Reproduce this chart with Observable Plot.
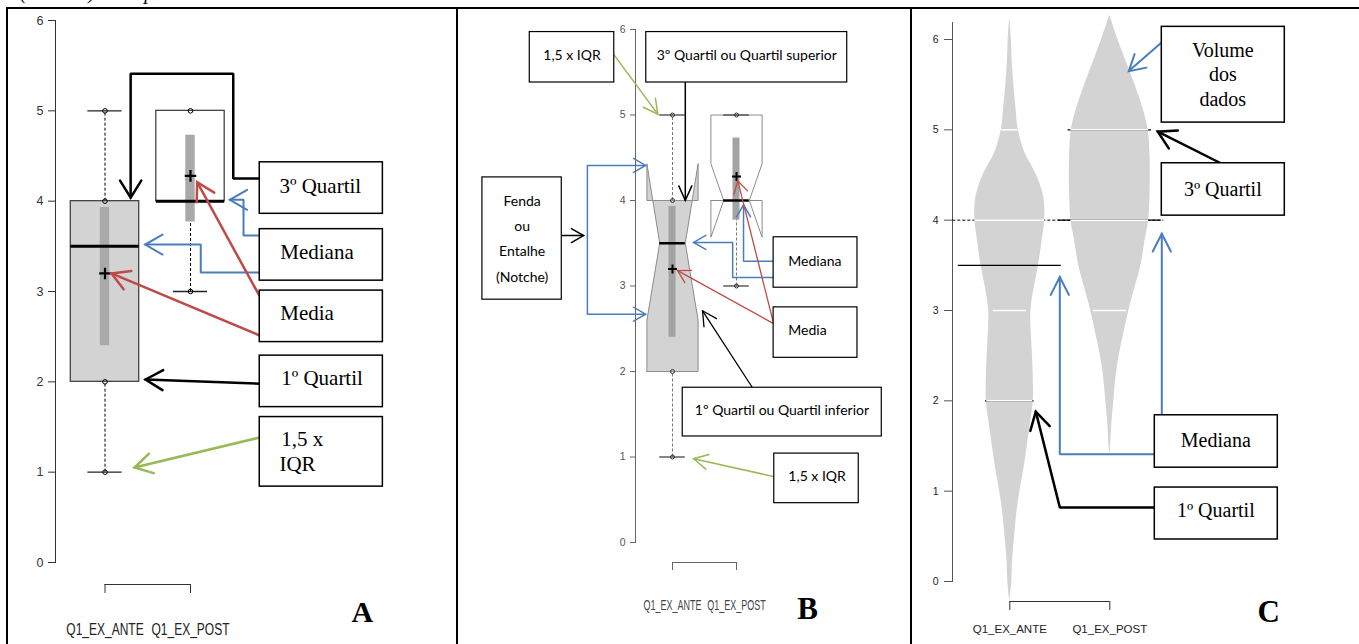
<!DOCTYPE html>
<html><head><meta charset="utf-8">
<script src="https://cdn.jsdelivr.net/npm/d3@7"></script>
<script src="https://cdn.jsdelivr.net/npm/@observablehq/plot@0.6"></script>
<style>
html,body{margin:0;padding:0;background:#fff;}
#root{position:relative;width:1359px;height:644px;overflow:hidden;background:#fff;}
#root svg{position:absolute;top:0;overflow:visible;}
.bar{position:absolute;background:#000;}
</style></head><body><div id="root"></div>
<script>
// ---------------- data ----------------
const categories = ["Q1_EX_ANTE", "Q1_EX_POST"];
const catPos = [1, 2];
const yTicks = [0, 1, 2, 3, 4, 5, 6];
const q1 = [2, 4];
const median = [3.5, 4];
const q3 = [4, 5];
const whiskerLow = [1, 3];
const whiskerHigh = [5, 5];
const mean = [3.2, 4.28];
const meanLow = [2.4, 3.77];
const meanHigh = [3.93, 4.73];
const notchLow = [2.6, 3.57];
const notchHigh = [4.43, 4.43];
const pointsAnte = [1, 2, 4, 5];
const pointsPost = [3, 5];

const violinAnteY = [-0.22, 0, 0.25, 0.5, 0.75, 1, 1.25, 1.5, 1.75, 2, 2.25, 2.5, 2.75, 3, 3.25, 3.5, 3.75, 4, 4.25, 4.5, 4.75, 5, 5.25, 5.5, 5.75, 6, 6.25];
const violinAnteDensity = [0, 0.05, 0.07, 0.12, 0.17, 0.25, 0.35, 0.43, 0.51, 0.58, 0.58, 0.56, 0.53, 0.52, 0.6, 0.71, 0.79, 0.86, 0.84, 0.66, 0.37, 0.21, 0.15, 0.1, 0.06, 0.04, 0];
const violinPostY = [1.4, 1.5, 1.75, 2, 2.25, 2.5, 2.75, 3, 3.25, 3.5, 3.75, 4, 4.25, 4.5, 4.75, 5, 5.25, 5.5, 5.75, 6, 6.27];
const violinPostDensity = [0, 0.02, 0.05, 0.1, 0.15, 0.23, 0.35, 0.47, 0.62, 0.77, 0.86, 0.96, 0.99, 1, 0.99, 0.95, 0.81, 0.62, 0.41, 0.2, 0];
const beanAnteValues = [5, 4, 3, 2];
const beanAnteLength = [0.21, 0.86, 0.41, 0.57];
const beanPostValues = [5, 4, 3];
const beanPostLength = [0.96, 0.96, 0.41];
const beanShadowAnte = [2];
const beanShadowAnteLength = [0.6];
const beanShadowPost = [5];
const beanShadowPostLength = [1.03];
const beanMean = [3.5, 4];
const overallMean = 4;

// ---------------- styles / layout ----------------
const BLUE = "#4a7ebb", RED = "#be4b48", GREEN = "#98b954", BLACK = "#000";
const SERIF = "'Liberation Serif','Times New Roman',serif";
const SANS = "'Liberation Sans',Arial,sans-serif";
const CAL = "Lato,'Open Sans',sans-serif";
const boxHalf = 0.4, capHalf = 0.2, notchHalf = 0.2, barHalf = 0.055, violinHalf = 0.405, meanLineHalf = 0.515;
const idx = [0, 1];
const intFormat = d => String(d);
const root = document.getElementById("root");

function connector(a, k) {
  const data = a.pts.map(([x, y]) => ({x, y}));
  const p = data[data.length - 2], q = data[data.length - 1];
  const sdx = (q.x - p.x) * k.kx, sdy = -(q.y - p.y) * k.ky;
  const rot = Math.atan2(sdx, -sdy) * 180 / Math.PI;
  const wing = a.wing ?? 18, half = (a.half ?? 30) * Math.PI / 180;
  const shape = {draw(ctx, l) {
    const dx = wing * Math.sin(half), dy = wing * Math.cos(half);
    ctx.moveTo(-dx, -l + dy); ctx.lineTo(0, -l); ctx.lineTo(dx, -l + dy);
  }};
  return [
    Plot.line(data, {x: "x", y: "y", stroke: a.color, strokeWidth: a.w, strokeLinejoin: "miter", curve: "linear"}),
    Plot.vector([q], {x: "x", y: "y", rotate: rot, length: 10, anchor: "end", shape, stroke: a.color, strokeWidth: a.w, strokeLinejoin: "miter"})
  ];
}
function annoBoxes(boxes, sw) {
  return Plot.rect(boxes, {x1: "x1", x2: "x2", y1: "y1", y2: "y2", fill: "#fff", stroke: BLACK, strokeWidth: sw});
}
function annoText(labels, font, size, aria) {
  return ["start", "middle"].map(a => Plot.text(labels.filter(d => (d.anchor || "start") === a), {
    x: "x", y: "y", text: "text", textAnchor: a, lineAnchor: "middle",
    fontFamily: font, fontSize: size, fill: "#000", ariaLabel: aria}));
}
function stretch(svg, selector, sy) {
  svg.querySelectorAll(selector).forEach(t => {
    t.setAttribute("transform", (t.getAttribute("transform") || "") + ` scale(1,${sy})`);
  });
}
function makePanel(cfg) {
  const svg = Plot.plot({
    width: cfg.width, height: 644,
    marginLeft: cfg.marginLeft, marginTop: cfg.marginTop, marginBottom: cfg.marginBottom, marginRight: 0,
    x: {type: "linear", domain: [1, 2], range: cfg.xRange},
    y: {type: "linear", domain: [0, 6], range: cfg.yRange},
    style: {background: "transparent", overflow: "visible", fontFamily: SANS},
    marks: cfg.marks
  });
  svg.style.left = cfg.left + "px";
  root.appendChild(svg);
  return svg;
}

// ---------------- Panel A ----------------
const kA = {kx: 85.5, ky: 90.33};
const boxesA = [
  {x1: 2.81, x2: 4.25, y1: 4.43, y2: 3.86},
  {x1: 2.81, x2: 4.25, y1: 3.69, y2: 3.12},
  {x1: 2.81, x2: 4.25, y1: 3.01, y2: 2.44},
  {x1: 2.81, x2: 4.25, y1: 2.29, y2: 1.72},
  {x1: 2.81, x2: 4.25, y1: 1.61, y2: 0.84}
];
const labelsA = [
  {x: 3.04, y: 4.17, text: "3º Quartil"},
  {x: 3.05, y: 3.43, text: "Mediana"},
  {x: 3.05, y: 2.76, text: "Media"},
  {x: 3.06, y: 2.04, text: "1º Quartil"},
  {x: 3.06, y: 1.36, text: "1,5 x"},
  {x: 3.04, y: 1.085, text: "IQR"}
];
const arrowsA = [
  {pts: [[2.81, 4.25], [2.50, 4.25], [2.50, 5.41], [1.30, 5.41], [1.30, 4.04]], color: BLACK, w: 2.5, wing: 20, half: 32},
  {pts: [[2.81, 3.62], [2.62, 3.62], [2.62, 4.015], [2.46, 4.015]], color: BLUE, w: 2, wing: 20, half: 30},
  {pts: [[2.81, 3.21], [2.12, 3.21], [2.12, 3.52], [1.47, 3.52]], color: BLUE, w: 2, wing: 20, half: 30},
  {pts: [[2.81, 2.945], [2.078, 4.21]], color: RED, w: 2.5, wing: 20, half: 30},
  {pts: [[2.81, 2.513], [1.076, 3.2]], color: RED, w: 2.5, wing: 20, half: 30},
  {pts: [[2.81, 1.98], [1.474, 2.026]], color: BLACK, w: 2.5, wing: 20, half: 30},
  {pts: [[2.81, 1.384], [1.345, 1.052]], color: GREEN, w: 2.5, wing: 20, half: 30}
];
const boxFillA = ["#d3d3d3", "#ffffff"];

const svgA = makePanel({
  left: 0, width: 455, marginLeft: 55, marginTop: 20, marginBottom: 60,
  xRange: [104.5, 190], yRange: [562, 20],
  marks: [
    Plot.frame({anchor: "left", insetBottom: 22, stroke: "#333"}),
    Plot.axisY(yTicks, {tickSize: 7, tickPadding: 5, label: null, tickFormat: intFormat, fontSize: 12.5, fill: "#333", stroke: "#333"}),
    Plot.axisX(catPos, {tickSize: 9, tickPadding: 30, label: null, tickFormat: d => categories[d - 1], fontSize: 12, fill: "#222", stroke: "#333"}),
    Plot.ruleY([0], {x1: 1, x2: 2, dy: 22, stroke: "#333"}),
    Plot.ruleX(idx, {x: i => catPos[i], y1: i => whiskerLow[i], y2: i => q1[i], stroke: "#000", strokeDasharray: "3,2"}),
    Plot.ruleX(idx, {x: i => catPos[i], y1: i => q3[i], y2: i => whiskerHigh[i], stroke: "#000", strokeDasharray: "3,2"}),
    Plot.ruleY(idx, {y: i => whiskerLow[i], x1: i => catPos[i] - capHalf, x2: i => catPos[i] + capHalf, stroke: "#222", strokeWidth: 1.3}),
    Plot.ruleY(idx, {y: i => whiskerHigh[i], x1: i => catPos[i] - capHalf, x2: i => catPos[i] + capHalf, stroke: "#222", strokeWidth: 1.3}),
    ...idx.map(i => Plot.rect([i], {x1: catPos[i] - boxHalf, x2: catPos[i] + boxHalf, y1: q1[i], y2: q3[i], fill: boxFillA[i], stroke: "#444", strokeWidth: 1.3})),
    Plot.rect(idx, {x1: i => catPos[i] - barHalf, x2: i => catPos[i] + barHalf, y1: i => meanLow[i], y2: i => meanHigh[i], fill: "#a9a9a9"}),
    Plot.ruleY(idx, {y: i => median[i], x1: i => catPos[i] - boxHalf, x2: i => catPos[i] + boxHalf, stroke: "#000", strokeWidth: 3}),
    Plot.dot(pointsAnte, {x: catPos[0], y: d => d, r: 2.3, stroke: "#000", fill: "none", strokeWidth: 1}),
    Plot.dot(pointsPost, {x: catPos[1], y: d => d, r: 2.3, stroke: "#000", fill: "none", strokeWidth: 1}),
    Plot.dot(idx, {x: i => catPos[i], y: i => mean[i], symbol: "plus", r: 3.8, stroke: "#000", strokeWidth: 2.2}),
    ...arrowsA.flatMap(a => connector(a, kA)),
    annoBoxes(boxesA, 1.5),
    ...annoText(labelsA, SERIF, 21, "labelsA"),
    Plot.text([{x: 4.01, y: -0.55, text: "A"}], {x: "x", y: "y", text: "text", fontFamily: SERIF, fontWeight: "bold", fontSize: 30, lineAnchor: "middle", fill: "#000"})
  ]
});
stretch(svgA, 'g[aria-label="x-axis tick label"] text', 1.3);

// ---------------- Panel B ----------------
const kB = {kx: 64, ky: 85.5};
const boxesB = [
  {x1: -1.23, x2: 0.09, y1: 5.97, y2: 5.38},
  {x1: 0.59, x2: 3.73, y1: 5.97, y2: 5.38},
  {x1: -1.97, x2: -0.73, y1: 4.27, y2: 2.84},
  {x1: 2.58, x2: 3.89, y1: 3.57, y2: 2.98},
  {x1: 2.58, x2: 3.89, y1: 2.75, y2: 2.16},
  {x1: 1.16, x2: 4.27, y1: 1.81, y2: 1.24},
  {x1: 2.59, x2: 3.91, y1: 1.04, y2: 0.46}
];
const labelsB = [
  {x: -0.57, y: 5.70, text: "1,5 x IQR", anchor: "middle"},
  {x: 2.16, y: 5.70, text: "3º Quartil ou Quartil superior", anchor: "middle"},
  {x: -1.35, y: 3.99, text: "Fenda", anchor: "middle"},
  {x: -1.35, y: 3.70, text: "ou", anchor: "middle"},
  {x: -1.35, y: 3.40, text: "Entalhe", anchor: "middle"},
  {x: -1.35, y: 3.10, text: "(Notche)", anchor: "middle"},
  {x: 2.81, y: 3.29, text: "Mediana"},
  {x: 2.81, y: 2.48, text: "Media"},
  {x: 2.71, y: 1.54, text: "1º Quartil ou Quartil inferior", anchor: "middle"},
  {x: 2.81, y: 0.77, text: "1,5 x IQR"}
];
const arrowsB = [
  {pts: [[1.20, 5.38], [1.20, 4.0]], color: BLACK, w: 1.5, wing: 16, half: 24},
  {pts: [[0.09, 5.70], [0.77, 5.01]], color: GREEN, w: 1.5, wing: 16, half: 28},
  {pts: [[-0.73, 3.59], [-0.39, 3.59]], color: BLACK, w: 1.5, wing: 14, half: 30},
  {pts: [[-0.33, 3.59], [-0.33, 4.41], [0.58, 4.41]], color: BLUE, w: 1.5, wing: 14, half: 30},
  {pts: [[-0.33, 3.59], [-0.33, 2.67], [0.58, 2.67]], color: BLUE, w: 1.5, wing: 14, half: 30},
  {pts: [[2.58, 3.29], [2.11, 3.29], [2.11, 3.95]], color: BLUE, w: 1.5, wing: 14, half: 30},
  {pts: [[2.58, 3.10], [1.94, 3.10], [1.94, 3.51], [1.33, 3.51]], color: BLUE, w: 1.5, wing: 14, half: 30},
  {pts: [[2.58, 2.56], [1.08, 3.18]], color: RED, w: 1.3, wing: 14, half: 30},
  {pts: [[2.58, 2.56], [2.02, 4.23]], color: RED, w: 1.3, wing: 14, half: 30},
  {pts: [[2.25, 1.81], [1.47, 2.71]], color: BLACK, w: 1.3, wing: 16, half: 28},
  {pts: [[2.59, 0.77], [1.33, 0.98]], color: GREEN, w: 1.5, wing: 16, half: 28}
];
const boxFillB = ["#d3d3d3", "#ffffff"];
function notchPoly(i) {
  const c = catPos[i], w = boxHalf, n = notchHalf;
  return [[c - w, q1[i]], [c - w, notchLow[i]], [c - n, median[i]], [c - w, notchHigh[i]], [c - w, q3[i]],
          [c + w, q3[i]], [c + w, notchHigh[i]], [c + n, median[i]], [c + w, notchLow[i]], [c + w, q1[i]], [c - w, q1[i]]]
    .map(([x, y]) => ({x, y}));
}
const svgB = makePanel({
  left: 455, width: 455, marginLeft: 180, marginTop: 29, marginBottom: 82,
  xRange: [217, 281], yRange: [542, 29],
  marks: [
    Plot.frame({anchor: "left", insetBottom: 20, stroke: "#666"}),
    Plot.axisY(yTicks, {tickSize: 5, tickPadding: 5, label: null, tickFormat: intFormat, fontSize: 10.5, fill: "#555", stroke: "#666"}),
    Plot.axisX(catPos, {tickSize: 8, tickPadding: 29, label: null, tickFormat: d => categories[d - 1], fontSize: 9, fill: "#444", stroke: "#666"}),
    Plot.ruleY([0], {x1: 1, x2: 2, dy: 20, stroke: "#666"}),
    Plot.ruleX(idx, {x: i => catPos[i], y1: i => whiskerLow[i], y2: i => q1[i], stroke: "#777", strokeDasharray: "3,2"}),
    ...idx.map(i => Plot.line(notchPoly(i), {x: "x", y: "y", fill: boxFillB[i], stroke: "#8c8c8c", strokeWidth: 1, curve: "linear"})),
    Plot.ruleX(idx, {x: i => catPos[i], y1: i => q3[i], y2: i => whiskerHigh[i], stroke: "#777", strokeDasharray: "3,2"}),
    Plot.ruleY(idx, {y: i => whiskerLow[i], x1: i => catPos[i] - capHalf, x2: i => catPos[i] + capHalf, stroke: "#444", strokeWidth: 1.3}),
    Plot.ruleY(idx, {y: i => whiskerHigh[i], x1: i => catPos[i] - capHalf, x2: i => catPos[i] + capHalf, stroke: "#444", strokeWidth: 1.3}),
    Plot.rect(idx, {x1: i => catPos[i] - barHalf, x2: i => catPos[i] + barHalf, y1: i => meanLow[i], y2: i => meanHigh[i], fill: "#a3a3a3"}),
    Plot.ruleY(idx, {y: i => median[i], x1: i => catPos[i] - notchHalf, x2: i => catPos[i] + notchHalf, stroke: "#000", strokeWidth: 2.5}),
    Plot.dot(pointsAnte, {x: catPos[0], y: d => d, r: 2, stroke: "#333", fill: "none", strokeWidth: 1}),
    Plot.dot(pointsPost, {x: catPos[1], y: d => d, r: 2, stroke: "#333", fill: "none", strokeWidth: 1}),
    Plot.dot(idx, {x: i => catPos[i], y: i => mean[i], symbol: "plus", r: 3, stroke: "#000", strokeWidth: 2}),
    ...arrowsB.flatMap(a => connector(a, kB)),
    annoBoxes(boxesB, 1.2),
    ...annoText(labelsB, CAL, 14, "labelsB"),
    Plot.text([{x: 3.11, y: -0.78, text: "B"}], {x: "x", y: "y", text: "text", fontFamily: SERIF, fontWeight: "bold", fontSize: 31, lineAnchor: "middle", fill: "#000"})
  ]
});
stretch(svgB, 'g[aria-label="labelsB"] text', 1.35);
stretch(svgB, 'g[aria-label="x-axis tick label"] text', 1.6);
svgB.querySelectorAll('g[aria-label="labelsB"] text').forEach(t => {
  const s = t.textContent;
  const wavy = c => `style="text-decoration: underline wavy ${c}; text-decoration-skip-ink: none;"`;
  if (s === "(Notche)") t.innerHTML = `(<tspan font-style="italic" ${wavy("#e05050")}>Notche</tspan>)`;
  if (s === "ou") t.innerHTML = `<tspan ${wavy("#6aa84f")}>ou</tspan>`;
  if (s === "3º Quartil ou Quartil superior") t.innerHTML = `3º <tspan ${wavy("#e05050")}>Quartil</tspan> ou <tspan ${wavy("#e05050")}>Quartil superior</tspan>`;
  if (s === "1º Quartil ou Quartil inferior") t.innerHTML = `1º <tspan ${wavy("#e05050")}>Quartil</tspan> ou <tspan ${wavy("#e05050")}>Quartil inferior</tspan>`;
});

// ---------------- Panel C ----------------
const kC = {kx: 100, ky: 90.33};
const boxesC = [
  {x1: 2.52, x2: 3.75, y1: 6.14, y2: 5.08},
  {x1: 2.52, x2: 3.75, y1: 4.63, y2: 4.05},
  {x1: 2.45, x2: 3.68, y1: 1.84, y2: 1.26},
  {x1: 2.45, x2: 3.68, y1: 1.04, y2: 0.465}
];
const labelsC = [
  {x: 3.13, y: 5.88, text: "Volume", anchor: "middle"},
  {x: 3.13, y: 5.61, text: "dos", anchor: "middle"},
  {x: 3.13, y: 5.34, text: "dados", anchor: "middle"},
  {x: 3.13, y: 4.34, text: "3º Quartil", anchor: "middle"},
  {x: 3.06, y: 1.56, text: "Mediana", anchor: "middle"},
  {x: 3.06, y: 0.79, text: "1º Quartil", anchor: "middle"}
];
const arrowsC = [
  {pts: [[2.52, 5.97], [2.19, 5.65]], color: BLUE, w: 2, wing: 18, half: 30},
  {pts: [[3.11, 4.63], [2.48, 4.98]], color: BLACK, w: 2.5, wing: 20, half: 30},
  {pts: [[2.45, 1.41], [1.50, 1.41], [1.50, 3.37]], color: BLUE, w: 2, wing: 20, half: 27},
  {pts: [[2.52, 1.84], [2.52, 3.85]], color: BLUE, w: 2, wing: 20, half: 27},
  {pts: [[2.45, 0.82], [1.50, 0.82], [1.26, 1.88]], color: BLACK, w: 2.5, wing: 20, half: 30}
];
const violinData = (ys, ds, c) => ys.map((y, i) => ({y, x1: c - ds[i] * violinHalf, x2: c + ds[i] * violinHalf}));
const beanData = (vals, lens, c) => vals.map((v, i) => ({y: v, x1: c - lens[i] * violinHalf, x2: c + lens[i] * violinHalf}));
const svgC = makePanel({
  left: 905, width: 454, marginLeft: 47, marginTop: 22, marginBottom: 43,
  xRange: [104.3, 204.3], yRange: [581, 39],
  marks: [
    Plot.frame({anchor: "left", insetBottom: 20, stroke: "#555"}),
    Plot.axisY(yTicks, {tickSize: 8, tickPadding: 6, label: null, tickFormat: intFormat, fontSize: 10.5, fill: "#222", stroke: "#555"}),
    Plot.axisX(catPos, {tickSize: 9, tickPadding: 14, label: null, tickFormat: d => categories[d - 1], fontSize: 11.5, fill: "#222", stroke: "#333"}),
    Plot.ruleY([0], {x1: 1, x2: 2, dy: 20, stroke: "#333"}),
    Plot.ruleY([overallMean], {x1: 0.43, x2: 2.54, stroke: "#000", strokeDasharray: "3,2"}),
    Plot.areaX(violinData(violinAnteY, violinAnteDensity, catPos[0]), {y: "y", x1: "x1", x2: "x2", curve: "catmull-rom", fill: "#d3d3d3"}),
    Plot.areaX(violinData(violinPostY, violinPostDensity, catPos[1]), {y: "y", x1: "x1", x2: "x2", curve: "catmull-rom", fill: "#d3d3d3"}),
    Plot.ruleY(idx, {y: i => beanMean[i], x1: i => catPos[i] - meanLineHalf, x2: i => catPos[i] + meanLineHalf, stroke: "#000", strokeWidth: 1.2}),
    Plot.ruleY(beanData(beanShadowAnte, beanShadowAnteLength, catPos[0]), {y: "y", x1: "x1", x2: "x2", stroke: "#000", strokeWidth: 1.2}),
    Plot.ruleY(beanData(beanShadowPost, beanShadowPostLength, catPos[1]), {y: "y", x1: "x1", x2: "x2", stroke: "#000", strokeWidth: 1.2}),
    Plot.ruleY(beanData(beanAnteValues, beanAnteLength, catPos[0]), {y: "y", x1: "x1", x2: "x2", stroke: "#fff", strokeWidth: 1.5}),
    Plot.ruleY(beanData(beanPostValues, beanPostLength, catPos[1]), {y: "y", x1: "x1", x2: "x2", stroke: "#fff", strokeWidth: 1.5}),
    ...arrowsC.flatMap(a => connector(a, kC)),
    annoBoxes(boxesC, 1.5),
    ...annoText(labelsC, SERIF, 20, "labelsC"),
    Plot.text([{x: 3.59, y: -0.34, text: "C"}], {x: "x", y: "y", text: "text", fontFamily: SERIF, fontWeight: "bold", fontSize: 31, lineAnchor: "middle", fill: "#000"})
  ]
});

// ---------------- caption fragment at top (cut off, as in the source) ----------------
const cap = document.createElementNS("http://www.w3.org/2000/svg", "svg");
cap.setAttribute("width", "400"); cap.setAttribute("height", "10");
cap.style.left = "0px";
cap.innerHTML = `<text x="20" y="-1" font-family="Liberation Serif, Times New Roman, serif" font-style="italic" font-size="20">(Autores) Exemplo</text>`;
root.appendChild(cap);

// ---------------- outer frame ----------------
[[6, 7, 1353, 2], [6, 7, 2, 640], [456, 7, 2, 640], [910, 7, 2, 640]].forEach(([l, t, w, h]) => {
  const d = document.createElement("div"); d.className = "bar";
  Object.assign(d.style, {left: l + "px", top: t + "px", width: w + "px", height: h + "px"});
  root.appendChild(d);
});
</script></body></html>
